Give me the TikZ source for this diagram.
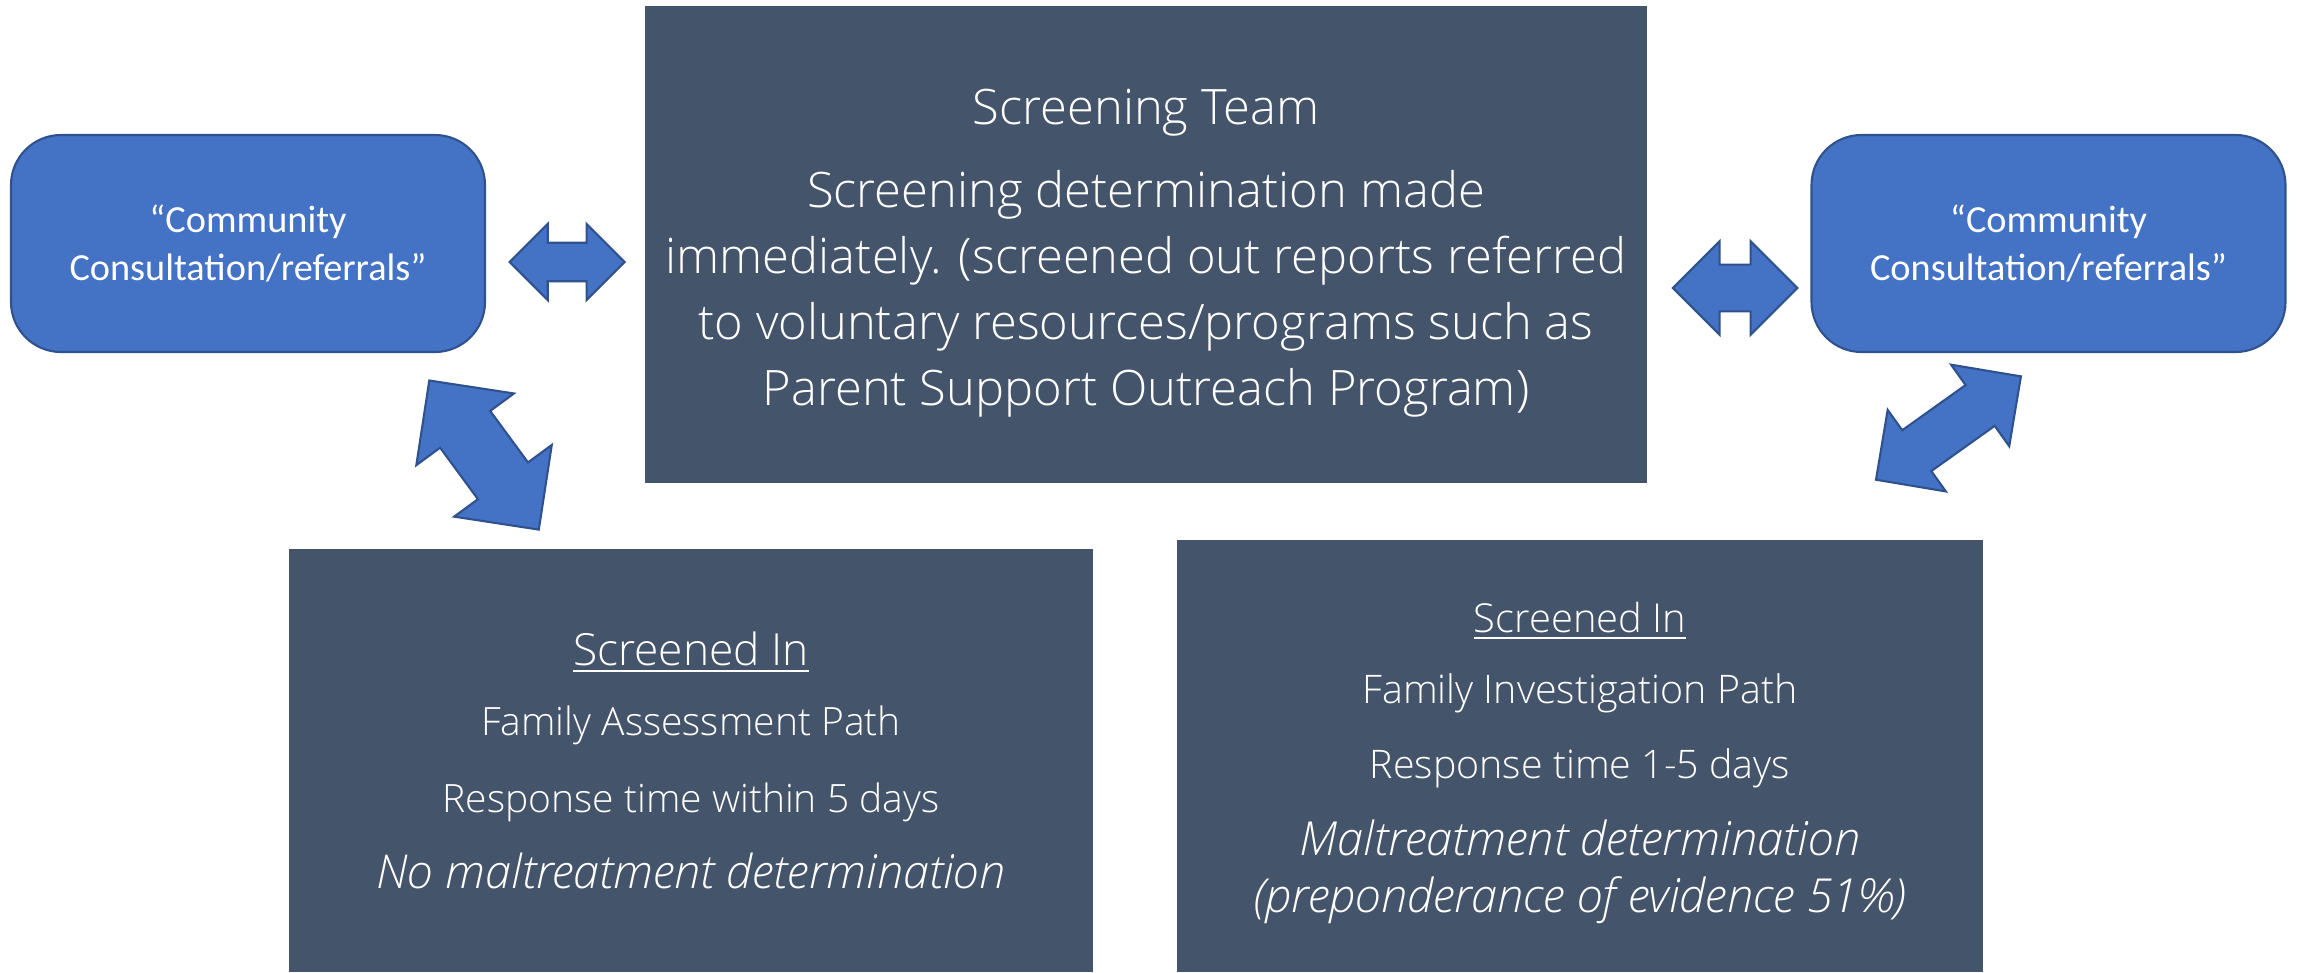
\documentclass[tikz,border=0pt]{standalone}
\usepackage{fontspec}
\usepackage{tikz}
\usetikzlibrary{shapes.arrows, calc, positioning}
\setmainfont{Carlito}
\newfontfamily\lightfont{Open Sans Light}[ItalicFont={Open Sans Light Italic}]
\definecolor{slate}{HTML}{44546A}
\definecolor{office}{HTML}{4472C4}
\definecolor{officeline}{HTML}{2F528F}

\begin{document}
\begin{tikzpicture}[every node/.style={text=white, align=center, inner sep=0pt},
  darkbox/.style={fill=slate},
  bluebox/.style={fill=office, draw=officeline, line width=0.6pt, rounded corners=0.5cm, minimum width=4.74cm, minimum height=2.17cm, font=\fontsize{10.9}{13.7}\selectfont},
  blockarrow/.style={double arrow, fill=office, draw=officeline, line width=0.6pt, double arrow tip angle=90, inner xsep=0pt}]

\useasboundingbox (0,0) rectangle (22.98,9.72);

\node (screen)[darkbox, minimum width=10.02cm, minimum height=4.77cm, font=\lightfont\fontsize{13.9}{18.8}\selectfont] at (11.46,7.275)
  {\raisebox{0pt}[\dimexpr\height+0.18cm]{Screening Team}\\[0.17cm]Screening determination made\\immediately. (screened out reports referred\\to voluntary resources/programs such as\\Parent Support Outreach Program)};

\node (comL)[bluebox] at (2.48,7.285) {“Community\\Consultation/referrals”};
\node (comR)[bluebox] at (20.485,7.285) {“Community\\Consultation/referrals”};

\node (assess)[darkbox, minimum width=8.04cm, minimum height=4.23cm, font=\lightfont\fontsize{11.1}{20.8}\selectfont] at (6.91,2.115)
  {{\fontsize{12.6}{15}\selectfont\underline{Screened In}}\\[-0.03cm]Family Assessment Path\\[0.04cm]Response time within 5 days\\[0.025cm]{\itshape\fontsize{13.3}{15}\selectfont No maltreatment determination}};

\node (invest)[darkbox, minimum width=8.06cm, minimum height=4.32cm, font=\lightfont\fontsize{11.2}{16.2}\selectfont] at (15.80,2.16)
  {\raisebox{0pt}[\dimexpr\height+0.14cm]{\fontsize{11.35}{15}\selectfont\underline{Screened In}}\\[0.14cm]Family Investigation Path\\[0.18cm]Response time 1-5 days\\[0.2cm]{\itshape\fontsize{13.35}{15}\selectfont Maltreatment determination}\\{\itshape\fontsize{13.35}{15}\selectfont(preponderance of evidence 51\%)}};

\node (arrL)[blockarrow, minimum height=1.15cm, inner ysep=0.182cm, double arrow head extend=0.188cm] at ($(comL.east)!0.5!(screen.west)+(0.02,-0.18)$) {};
\node (arrR)[blockarrow, minimum height=1.245cm, inner ysep=0.223cm, double arrow head extend=0.234cm] at ($(screen.east)!0.5!(comR.west)+(0.06,-0.44)$) {};
\node (arrDL)[blockarrow, minimum height=1.85cm, inner ysep=0.30cm, double arrow head extend=0.295cm, rotate=-53.7] at ($(comL.south east)+(-0.02,-1.02)$) {};
\node (arrDR)[blockarrow, minimum height=1.78cm, inner ysep=0.24cm, double arrow head extend=0.25cm, rotate=35.5] at ($(comR.south west)+(1.38,-0.75)$) {};
\end{tikzpicture}
\end{document}
